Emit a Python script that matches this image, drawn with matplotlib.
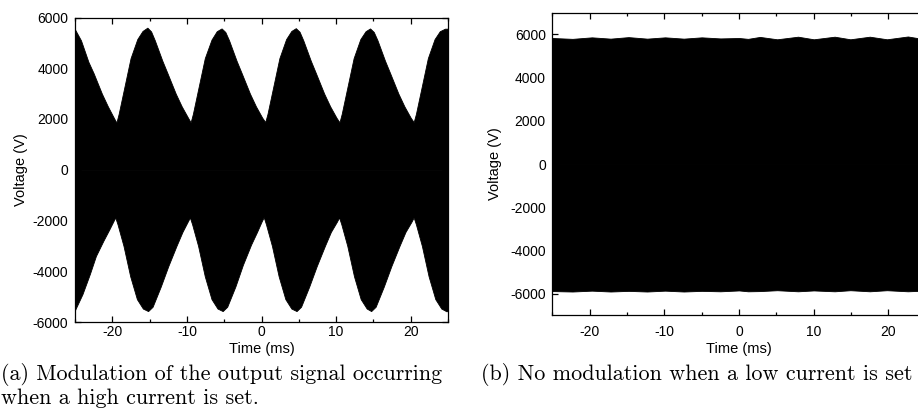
import matplotlib
matplotlib.use("Agg")
import matplotlib.pyplot as plt
from matplotlib.ticker import MultipleLocator

plt.rcParams['font.family'] = ['Liberation Sans', 'DejaVu Sans']
plt.rcParams['axes.unicode_minus'] = False

# (a) envelope of the modulated output signal, high current
t_up = [-25.0, -24.2, -23.2, -22.5, -21.4, -20.6, -19.8, -19.45,
        -19.15, -18.35, -17.55, -16.65, -15.95, -15.3,
        -14.8, -14.3, -13.3, -12.6, -11.5, -10.7, -9.85, -9.5,
        -9.2, -8.4, -7.6, -6.7, -6.0, -5.35,
        -4.85, -4.35, -3.35, -2.65, -1.55, -0.75, 0.1, 0.5,
        0.8, 1.6, 2.4, 3.3, 4.0, 4.6,
        5.1, 5.6, 6.6, 7.3, 8.4, 9.2, 10.05, 10.45,
        10.75, 11.55, 12.35, 13.25, 13.95, 14.55,
        15.05, 15.55, 16.55, 17.25, 18.35, 19.15, 20.0, 20.4,
        20.7, 21.5, 22.3, 23.2, 23.9, 24.6, 25.0]
v_up = [5530, 5100, 4250, 3800, 3000, 2500, 2050, 1860,
        2200, 3300, 4400, 5150, 5470, 5600,
        5450, 5100, 4300, 3800, 3000, 2500, 2050, 1870,
        2200, 3300, 4400, 5130, 5460, 5570,
        5430, 5100, 4300, 3800, 3000, 2500, 2050, 1880,
        2200, 3300, 4400, 5150, 5470, 5580,
        5440, 5100, 4300, 3800, 3000, 2500, 2050, 1870,
        2200, 3300, 4400, 5150, 5460, 5570,
        5430, 5100, 4300, 3800, 3000, 2500, 2050, 1880,
        2200, 3300, 4400, 5150, 5460, 5560, 5560]

t_low = [-25.0, -24.0, -23.0, -22.2, -21.2, -20.4, -19.6,
         -19.3, -18.5, -17.6, -16.7, -15.9, -15.2,
         -14.6, -13.5, -12.5, -11.4, -10.6, -9.9, -9.6,
         -9.3, -8.5, -7.6, -6.7, -5.9, -5.2,
         -4.6, -3.5, -2.5, -1.4, -0.6, 0.0, 0.3,
         0.6, 1.4, 2.3, 3.2, 4.0, 4.7,
         5.3, 6.4, 7.4, 8.5, 9.3, 10.1, 10.4,
         10.7, 11.5, 12.4, 13.3, 14.1, 14.7,
         15.3, 16.4, 17.4, 18.5, 19.3, 20.1, 20.4,
         20.7, 21.5, 22.4, 23.3, 24.1, 24.8, 25.0]
v_low = [-5530, -4900, -4100, -3400, -2800, -2350, -1880,
         -2150, -3000, -4200, -5100, -5470, -5570,
         -5400, -4600, -3800, -3000, -2450, -2050, -1880,
         -2150, -3000, -4200, -5100, -5470, -5570,
         -5400, -4600, -3750, -2950, -2450, -2050, -1870,
         -2150, -3000, -4200, -5100, -5470, -5570,
         -5400, -4600, -3800, -3000, -2450, -2050, -1880,
         -2150, -3000, -4200, -5100, -5470, -5570,
         -5400, -4600, -3800, -3000, -2450, -2050, -1880,
         -2150, -3000, -4200, -5100, -5470, -5580, -5560]

# (b) envelope with low current, no modulation
t_b = [-25.0, -22.3, -19.7, -17.2, -14.8, -12.3, -9.9, -7.4, -5.0, -2.5,
       0.0, 1.2, 2.8, 5.1, 7.9, 10.0, 12.8, 14.9, 17.5, 19.8, 22.6, 24.7, 25.0]
up_b = [5830, 5790, 5860, 5800, 5870, 5800, 5860, 5800, 5860, 5810,
        5830, 5790, 5880, 5770, 5890, 5770, 5890, 5770, 5890, 5770, 5900, 5780, 5820]
low_b = [-5880, -5900, -5860, -5900, -5870, -5900, -5860, -5900, -5870, -5890,
         -5850, -5890, -5880, -5840, -5890, -5850, -5890, -5840, -5890, -5840, -5890, -5860, -5870]

fig = plt.figure(figsize=(9.18, 4.18), dpi=100)
ax1 = fig.add_axes([75/918, 1-322/418, 373/918, 304.5/418])
ax2 = fig.add_axes([552.3/918, 1-315.3/418, 373.5/918, 302.6/418])

ax1.fill_between(t_up, v_up, 0, color='black', lw=0.6)
ax1.fill_between(t_low, v_low, 0, color='black', lw=0.6)
ax1.set_ylim(-6000, 6000)

ax2.fill_between(t_b, up_b, 0, color='black', lw=0.6)
ax2.fill_between(t_b, low_b, 0, color='black', lw=0.6)
ax2.set_ylim(-7000, 7000)

for ax in (ax1, ax2):
    ax.set_xlim(-25, 25)
    ax.xaxis.set_major_locator(MultipleLocator(10))
    ax.xaxis.set_minor_locator(MultipleLocator(5))
    ax.yaxis.set_major_locator(MultipleLocator(2000))
    ax.tick_params(which='both', direction='in', top=True, right=True,
                   labelsize=10, width=0.9)
    ax.tick_params(which='major', length=4)
    ax.tick_params(which='minor', length=2)
    ax.tick_params(axis='y', pad=4.7)
    for s in ax.spines.values():
        s.set_linewidth(0.9)
    ax.set_xlabel('Time (ms)', fontsize=10.5)
    ax.set_ylabel('Voltage (V)', fontsize=10.5)

ax1.tick_params(axis='x', pad=2.3)
ax2.tick_params(axis='x', pad=7.0)
ax1.xaxis.set_label_coords(0.5, -0.066)
ax2.xaxis.set_label_coords(0.5, -0.088)
ax1.yaxis.set_label_coords(-0.126, 0.5)
ax2.yaxis.set_label_coords(-0.135, 0.5)

cap = dict(family='cmr10', fontsize=15.9, va='baseline', ha='left')
fig.text(1/918, 1-380/418, '(a) Modulation of the output signal occurring', **cap)
fig.text(1/918, 1-404/418, 'when a high current is set.', **cap)
fig.text(481/918, 1-380/418, '(b) No modulation when a low current is set', **cap)

fig.savefig('out.png', dpi=100)
